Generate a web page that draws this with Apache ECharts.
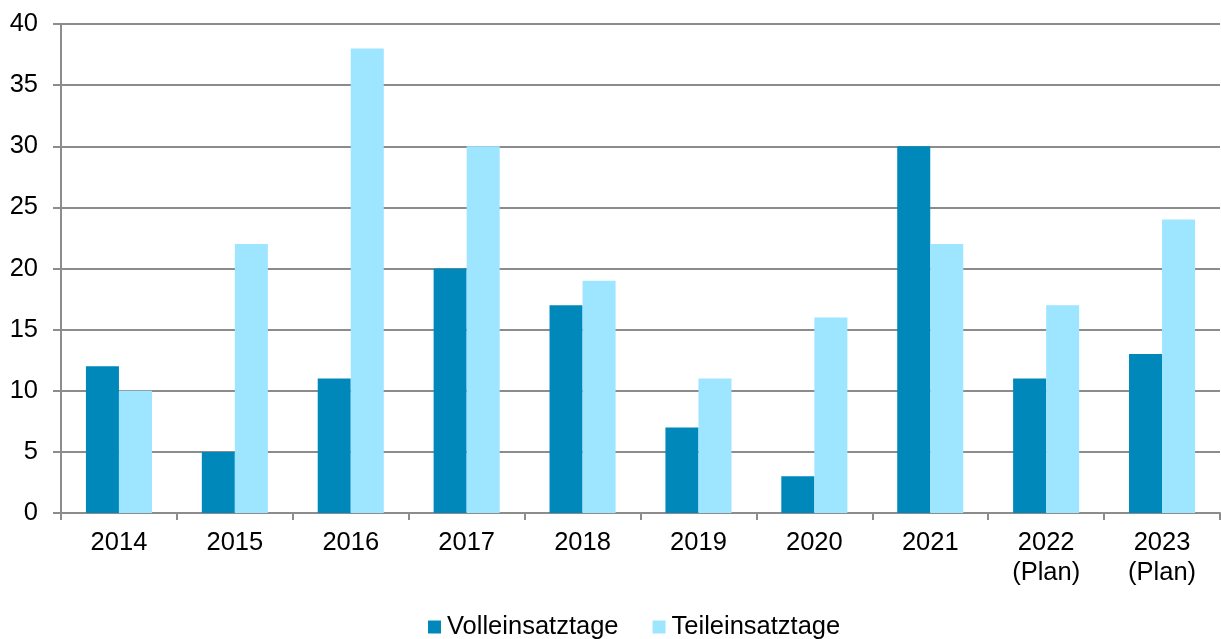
<!DOCTYPE html>
<html><head><meta charset="utf-8">
<script src="https://cdn.jsdelivr.net/npm/echarts@6/dist/echarts.min.js"></script>
<style>html,body{margin:0;padding:0;background:#fff}#c{width:1221px;height:639px}</style>
</head><body><div id="c"></div>
<script>
const categories = ['2014','2015','2016','2017','2018','2019','2020','2021','2022\n(Plan)','2023\n(Plan)'];
const volleinsatztage = [12,5,11,20,17,7,3,30,11,13];
const teileinsatztage = [10,22,38,30,19,11,16,22,17,24];
const yTicks = {min:0, max:40, interval:5};

const chart = echarts.init(document.getElementById('c'), null, {renderer:'canvas'});
const font = '"Liberation Sans", Arial, sans-serif';
const gridColor = '#8c8c8c';
chart.setOption({
  animation:false,
  textStyle:{fontFamily:font},
  grid:{left:61, right:1, top:24, bottom:126, containLabel:false},
  legend:{
    data:['Volleinsatztage','Teileinsatztage'],
    top:614, left:428, padding:0,
    icon:'rect', itemWidth:13, itemHeight:13, itemGap:34,
    textStyle:{fontFamily:font, fontSize:25.5, color:'#000', padding:[0,0,0,1]}
  },
  xAxis:{
    type:'category', data:categories,
    axisLine:{lineStyle:{color:gridColor,width:2}},
    axisTick:{show:true, length:7, lineStyle:{color:gridColor,width:2}},
    axisLabel:{fontFamily:font, fontSize:25.5, color:'#000', margin:15, lineHeight:30, interval:0}
  },
  yAxis:{
    type:'value', min:yTicks.min, max:yTicks.max, interval:yTicks.interval,
    axisLine:{show:true, lineStyle:{color:gridColor,width:2}},
    axisTick:{show:true, length:8, lineStyle:{color:gridColor,width:2}},
    splitLine:{lineStyle:{color:gridColor,width:2}},
    axisLabel:{fontFamily:font, fontSize:25.5, color:'#000', margin:23}
  },
  series:[
    {name:'Volleinsatztage', type:'bar', data:volleinsatztage, barGap:'0%', barCategoryGap:'43%',
     itemStyle:{color:'#0088bb'}},
    {name:'Teileinsatztage', type:'bar', data:teileinsatztage, barGap:'0%', barCategoryGap:'43%',
     itemStyle:{color:'#9ee5ff'}}
  ]
});
</script></body></html>
